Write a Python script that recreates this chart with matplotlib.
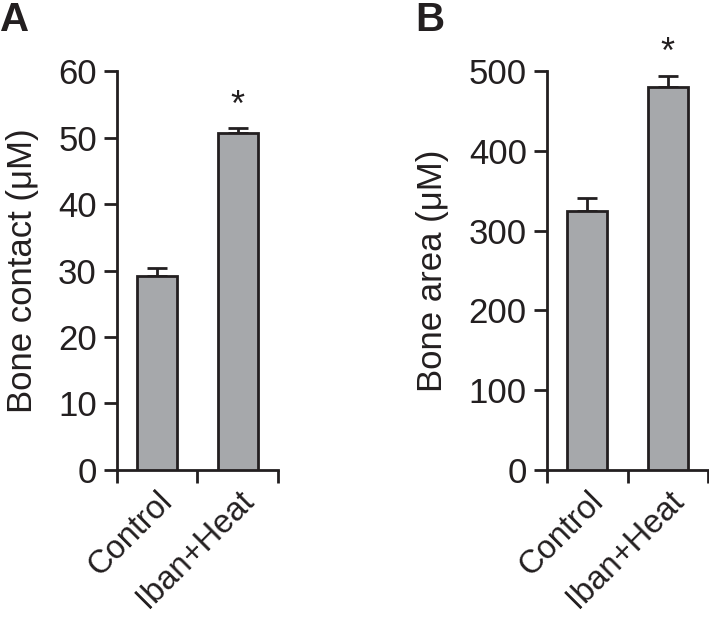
import matplotlib
matplotlib.use("Agg")
import matplotlib.pyplot as plt
import numpy as np

plt.rcParams['font.family'] = ['Liberation Sans', 'DejaVu Sans']

groups = ['Control', 'Iban+Heat']

# panel A: bone contact
contact_mean = [29.1, 50.7]
contact_err = [1.3, 0.7]

# panel B: bone area
area_mean = [325, 480]
area_err = [16, 14]

bar_gray = '#a6a8ab'
ink = '#231f20'
fs = 25


def draw_panel(ax, means, errs, ymax, ystep, ylabel, star_off):
    x = np.arange(len(groups))
    ax.bar(x, means, width=0.5, color=bar_gray, edgecolor=ink,
           linewidth=2, zorder=3)
    ax.errorbar(x, means, yerr=[[0] * len(errs), errs], fmt='none',
                ecolor=ink, elinewidth=2, capsize=7.5, capthick=2,
                zorder=2)
    # significance star above the treated group
    ax.text(x[1], means[1] + errs[1] + star_off, '*', ha='center',
            va='bottom', fontsize=26, color=ink)

    ax.set_xlim(-0.5, len(groups) - 0.5)
    ax.set_ylim(0, ymax)
    ax.set_yticks(np.arange(0, ymax + 1, ystep))
    ax.set_xticks(x)
    ax.set_xticklabels(groups, rotation=45, ha='right', va='top',
                       rotation_mode='anchor')
    ax.set_xticks(np.arange(-0.5, len(groups), 1.0), minor=True)
    ax.tick_params(axis='x', which='major', length=0, pad=11, labelsize=23.5)
    ax.tick_params(axis='x', which='minor', length=9.5, width=2,
                   direction='out', color=ink)
    ax.tick_params(axis='y', length=9.5, width=2, direction='out',
                   pad=5, labelsize=fs, color=ink)
    for lab in ax.get_xticklabels() + ax.get_yticklabels():
        lab.set_color(ink)

    for side in ['top', 'right']:
        ax.spines[side].set_visible(False)
    for side in ['left', 'bottom']:
        ax.spines[side].set_linewidth(2)
        ax.spines[side].set_color(ink)
    ax.set_ylabel(ylabel, fontsize=fs, color=ink, labelpad=14)


fig = plt.figure(figsize=(7.09, 6.23), dpi=100)
axA = fig.add_axes([0.165, 0.2456, 0.227, 0.6404])
axB = fig.add_axes([0.7715, 0.2456, 0.2271, 0.6404])

draw_panel(axA, contact_mean, contact_err, 60, 10, 'Bone contact (\u03bcM)', 0.6)
draw_panel(axB, area_mean, area_err, 500, 100, 'Bone area (\u03bcM)', 6)

fig.text(0.0, 0.998, 'A', fontsize=29, fontweight='bold', ha='left', va='top',
         color=ink)
fig.text(0.586, 0.998, 'B', fontsize=29, fontweight='bold', ha='left', va='top',
         color=ink)

fig.savefig('out.png', dpi=100)
